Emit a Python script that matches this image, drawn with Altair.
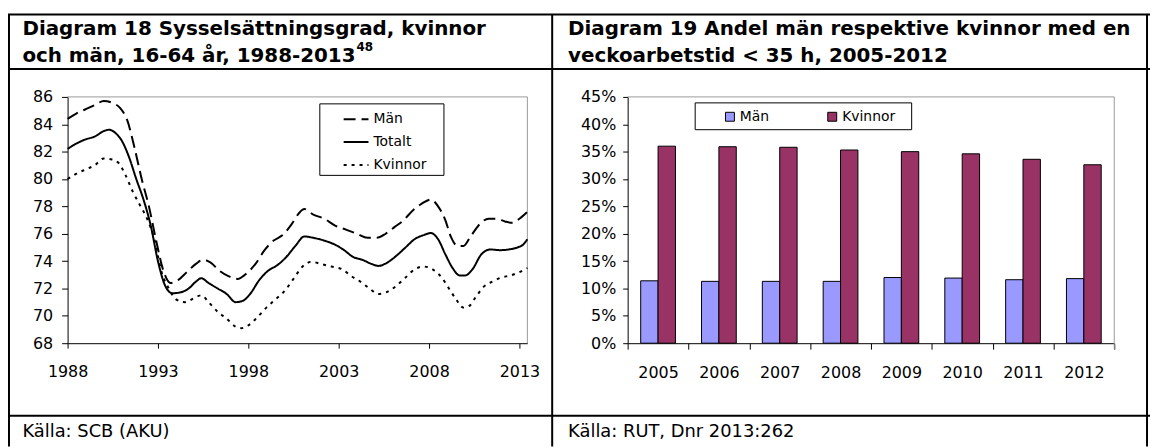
import altair as alt
import pandas as pd

FONT = "DejaVu Sans"

# ---------------- Diagram 18: Sysselsättningsgrad ----------------
line_series = ["Män", "Totalt", "Kvinnor"]

man_years = [1988.0, 1988.5, 1989.0, 1989.5, 1990.0, 1990.5, 1990.9, 1991.3, 1991.7, 1992.1,
             1992.5, 1992.9, 1993.3, 1993.7, 1994.1, 1994.6, 1995.1, 1995.5, 1995.9, 1996.4,
             1996.9, 1997.4, 1997.9, 1998.4, 1998.9, 1999.4, 1999.9, 2000.4, 2000.8, 2001.1,
             2001.6, 2002.2, 2002.8, 2003.4, 2004.0, 2004.6, 2005.1, 2005.6, 2006.1, 2006.6,
             2007.1, 2007.6, 2008.1, 2008.5, 2008.9, 2009.2, 2009.6, 2009.9, 2010.3, 2010.8,
             2011.3, 2011.7, 2012.2, 2012.6, 2013.0, 2013.44]
man_values = [84.4, 84.8, 85.1, 85.4, 85.7, 85.55, 85.2, 84.3, 82.3, 80.0,
              78.0, 75.5, 73.3, 72.4, 72.6, 73.2, 73.8, 74.1, 73.9, 73.3,
              72.9, 72.7, 73.1, 73.8, 74.8, 75.5, 75.9, 76.7, 77.5, 77.8,
              77.4, 77.1, 76.6, 76.3, 76.0, 75.7, 75.7, 76.0, 76.5, 77.0,
              77.7, 78.2, 78.5, 78.0, 77.0, 75.8, 75.1, 75.1, 75.8, 76.7,
              77.1, 77.1, 76.9, 76.8, 77.1, 77.6]

tot_years = [1988.0, 1988.5, 1989.0, 1989.5, 1990.0, 1990.3, 1990.7, 1991.0, 1991.4, 1991.8,
             1992.2, 1992.6, 1993.0, 1993.4, 1993.8, 1994.2, 1994.7, 1995.1, 1995.4, 1995.8,
             1996.3, 1996.8, 1997.3, 1997.7, 1998.1, 1998.6, 1999.1, 1999.6, 2000.1, 2000.6,
             2001.1, 2001.6, 2002.2, 2002.8, 2003.3, 2003.8, 2004.3, 2004.8, 2005.2, 2005.7,
             2006.2, 2006.7, 2007.2, 2007.7, 2008.1, 2008.5, 2008.9, 2009.3, 2009.7, 2010.0,
             2010.4, 2010.9, 2011.4, 2011.9, 2012.4, 2012.9, 2013.2, 2013.44]
tot_values = [82.2, 82.6, 82.9, 83.1, 83.5, 83.6, 83.3, 82.8, 81.6, 80.0,
              78.5, 76.6, 74.0, 72.2, 71.65, 71.7, 72.0, 72.5, 72.75, 72.4,
              72.0, 71.6, 71.0, 71.1, 71.6, 72.6, 73.3, 73.7, 74.3, 75.1,
              75.8, 75.7, 75.5, 75.2, 74.8, 74.3, 74.1, 73.8, 73.65, 73.9,
              74.4, 75.0, 75.6, 75.9, 76.05, 75.6, 74.5, 73.5, 72.95, 72.95,
              73.4, 74.5, 74.85, 74.8, 74.85, 75.0, 75.2, 75.6]

kv_years = [1988.0, 1988.5, 1989.0, 1989.5, 1990.0, 1990.4, 1990.8, 1991.2, 1991.6, 1992.0,
            1992.4, 1992.8, 1993.2, 1993.6, 1994.0, 1994.5, 1995.0, 1995.4, 1995.8, 1996.3,
            1996.8, 1997.3, 1997.6, 1998.0, 1998.5, 1999.0, 1999.5, 2000.0, 2000.5, 2001.0,
            2001.5, 2002.0, 2002.6, 2003.2, 2003.7, 2004.2, 2004.7, 2005.2, 2005.6, 2006.2,
            2006.7, 2007.2, 2007.7, 2008.2, 2008.7, 2009.1, 2009.5, 2009.9, 2010.2, 2010.6,
            2011.0, 2011.5, 2012.0, 2012.5, 2013.0, 2013.44]
kv_values = [80.0, 80.4, 80.7, 81.0, 81.5, 81.45, 81.2, 80.3, 79.1, 78.1,
             77.1, 75.6, 73.2, 72.0, 71.2, 71.0, 71.3, 71.5, 71.0, 70.3,
             69.8, 69.2, 69.1, 69.3, 69.9, 70.6, 71.2, 71.8, 72.7, 73.6,
             73.95, 73.8, 73.6, 73.4, 72.9, 72.5, 72.0, 71.6, 71.7, 72.2,
             72.8, 73.4, 73.6, 73.4, 72.8, 72.0, 71.2, 70.6, 70.7, 71.4,
             72.1, 72.5, 72.8, 72.95, 73.2, 73.5]

x_ticks_18 = [1988, 1993, 1998, 2003, 2008, 2013]
y_ticks_18 = [68, 70, 72, 74, 76, 78, 80, 82, 84, 86]

# ---------------- Diagram 19: Andel med veckoarbetstid < 35 h ----------------
bar_years = ["2005", "2006", "2007", "2008", "2009", "2010", "2011", "2012"]
bar_series = ["Män", "Kvinnor"]
bar_man = [0.114, 0.113, 0.113, 0.113, 0.120, 0.119, 0.116, 0.118]
bar_kvinnor = [0.360, 0.359, 0.358, 0.353, 0.350, 0.346, 0.336, 0.326]
y_ticks_19 = [0, 0.05, 0.10, 0.15, 0.20, 0.25, 0.30, 0.35, 0.40, 0.45]

# ---------------- texts ----------------
title18 = ["Diagram 18 Sysselsättningsgrad, kvinnor", "och män, 16-64 år, 1988-2013"]
title18_note = "48"
title19 = ["Diagram 19 Andel män respektive kvinnor med en", "veckoarbetstid < 35 h, 2005-2012"]
source18 = "Källa: SCB (AKU)"
source19 = "Källa: RUT, Dnr 2013:262"

# ---------------- tables ----------------
line_df = pd.concat([
    pd.DataFrame({"år": man_years, "värde": man_values, "serie": "Män"}),
    pd.DataFrame({"år": tot_years, "värde": tot_values, "serie": "Totalt"}),
    pd.DataFrame({"år": kv_years, "värde": kv_values, "serie": "Kvinnor"}),
], ignore_index=True)

bar_df = pd.concat([
    pd.DataFrame({"år": bar_years, "andel": bar_man, "kön": "Män"}),
    pd.DataFrame({"år": bar_years, "andel": bar_kvinnor, "kön": "Kvinnor"}),
], ignore_index=True)

one = pd.DataFrame({"k": [0]})


def rule(x1, y1, x2, y2, color="black", w=2):
    return alt.Chart(one).mark_rule(color=color, strokeWidth=w).encode(
        x=alt.value(x1), x2=alt.value(x2), y=alt.value(y1), y2=alt.value(y2))


def box(x1, y1, x2, y2, stroke="black"):
    return alt.Chart(one).mark_rect(fill="white", stroke=stroke, strokeWidth=1).encode(
        x=alt.value(x1), x2=alt.value(x2), y=alt.value(y1), y2=alt.value(y2))


def txt(s, x, y, size, bold=False):
    return alt.Chart(one).mark_text(
        text=s, align="left", baseline="alphabetic", font=FONT, fontSize=size,
        fontWeight="bold" if bold else "normal", color="black").encode(
        x=alt.value(x), y=alt.value(y))


# plot geometry (canvas pixels)
L_X0, L_X1 = 60, 523
R_X0, R_X1 = 624, 1114
Y_TOP, Y_BOT = 88, 336
H = 440

lines = alt.Chart(line_df).mark_line(color="black", strokeWidth=2, interpolate="monotone").encode(
    x=alt.X("år:Q",
            scale=alt.Scale(domain=[1988, 2013.44], range=[L_X0, L_X1], nice=False, zero=False),
            axis=alt.Axis(orient="bottom", offset=-(H - Y_BOT), values=x_ticks_18, format="d",
                          title=None, tickSize=5, labelPadding=16, labelFlush=False,
                          labelOverlap=False)),
    y=alt.Y("värde:Q",
            scale=alt.Scale(domain=[68, 86], range=[Y_BOT, Y_TOP], nice=False, zero=False),
            axis=alt.Axis(orient="left", offset=-L_X0, values=y_ticks_18, title=None,
                          tickSize=6, labelPadding=9)),
    strokeDash=alt.StrokeDash(
        "serie:N", sort=line_series,
        scale=alt.Scale(domain=line_series, range=[[12, 6], [1, 0], [3, 5]]),
        legend=alt.Legend(orient="none", legendX=337, legendY=97, direction="vertical",
                          title=None, padding=0, symbolType="stroke", symbolSize=625,
                          symbolStrokeWidth=2, symbolStrokeColor="black",
                          labelFont=FONT, labelFontSize=14, labelColor="black",
                          labelOffset=4, rowPadding=2)),
)

bars = alt.Chart(bar_df).mark_bar(stroke="black", strokeWidth=1).encode(
    x=alt.X("år:N", sort=bar_years,
            scale=alt.Scale(domain=bar_years, range=[R_X0, R_X1], paddingInner=0, paddingOuter=0),
            axis=alt.Axis(orient="bottom", offset=-(H - Y_BOT), title=None, labelAngle=0,
                          tickBand="extent", tickSize=6, labelPadding=16)),
    xOffset=alt.XOffset("kön:N", sort=bar_series,
                        scale=alt.Scale(domain=bar_series, paddingInner=0, paddingOuter=0.75)),
    y=alt.Y("andel:Q",
            scale=alt.Scale(domain=[0, 0.45], range=[Y_BOT, Y_TOP], nice=False, zero=True),
            axis=alt.Axis(orient="left", offset=-R_X0, values=y_ticks_19, format=".0%",
                          title=None, tickSize=5, labelPadding=7)),
    color=alt.Color("kön:N", sort=bar_series,
                    scale=alt.Scale(domain=bar_series, range=["#9999FF", "#993366"]),
                    legend=alt.Legend(orient="none", legendX=720, legendY=101,
                                      direction="horizontal", columns=2, title=None, padding=0,
                                      symbolType="square", symbolSize=81,
                                      symbolStrokeColor="black", symbolStrokeWidth=1,
                                      labelFont=FONT, labelFontSize=14, labelColor="black",
                                      labelOffset=3, columnPadding=56)),
)

decor = [
    # table borders
    rule(0, 5, 1150, 5),
    rule(0, 60, 1150, 60),
    rule(0, 409, 1150, 409),
    rule(1, 5, 1, H),
    rule(548, 5, 548, H),
    rule(1147, 5, 1147, H),
    # plot frames (grey top / right)
    rule(L_X0, Y_TOP, L_X1, Y_TOP, color="#999999", w=1),
    rule(L_X1, Y_TOP, L_X1, Y_BOT, color="#999999", w=1),
    rule(R_X0, Y_TOP, R_X1, Y_TOP, color="#999999", w=1),
    rule(R_X1, Y_TOP, R_X1, Y_BOT + 6, color="#999999", w=1),
    # legend boxes
    box(314, 95, 439, 167),
    box(692, 94, 910, 121),
    # titles and sources
    txt(title18[0], 14.5, 26, 20, True),
    txt(title18[1], 14.5, 53, 20, True),
    txt(title18_note, 351, 42, 12, True),
    txt(title19[0], 564, 26, 20, True),
    txt(title19[1], 564, 53, 20, True),
    txt(source18, 14.5, 430, 18),
    txt(source19, 564, 430, 18),
]

chart = alt.layer(*decor, lines, bars).resolve_scale(
    x="independent", y="independent"
).properties(
    width=1150, height=H, padding=0, autosize=alt.AutoSizeParams(type="none")
).configure_view(stroke=None).configure_axis(
    grid=False, domainColor="black", tickColor="black", labelColor="black",
    labelFont=FONT, labelFontSize=16, domainWidth=1, tickWidth=1
)

chart.save("out.html", embed_options={"renderer": "svg", "actions": False})
